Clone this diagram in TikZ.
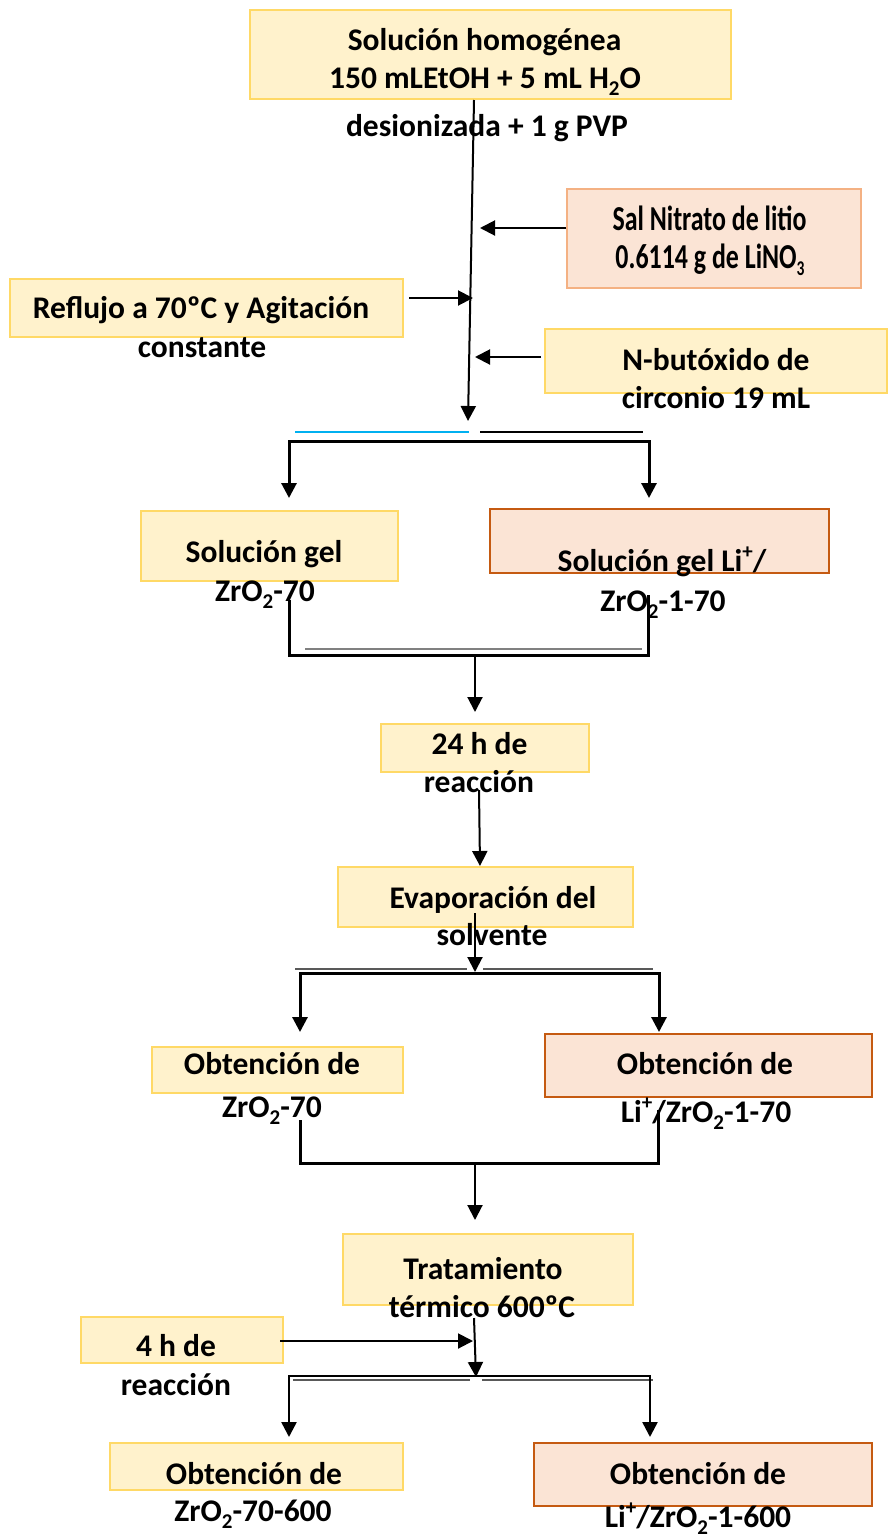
\documentclass[tikz,border=0pt]{standalone}
\usepackage{fontspec}
\setmainfont{Carlito}
\newfontfamily\condfont{Carlito}[FakeStretch=0.74]
\usetikzlibrary{arrows.meta,fit}
\definecolor{yfill}{HTML}{FFF2CC}
\definecolor{ybord}{HTML}{FFD966}
\definecolor{sfill}{HTML}{FBE4D5}
\definecolor{sbord}{HTML}{F4B183}
\definecolor{obord}{HTML}{C55A11}
\definecolor{cyanl}{HTML}{00B0F0}
\newcommand{\mysub}[1]{\raisebox{-7pt}{\fontsize{21}{21}\selectfont #1}}
\newcommand{\mysup}[1]{\raisebox{13pt}{\fontsize{21}{21}\selectfont #1}}
\begin{document}
\begin{tikzpicture}[x=1pt,y=-1pt,
 box/.style={line width=2pt, inner sep=0pt, outer sep=0pt, rectangle},
 ybox/.style={box, draw=ybord, fill=yfill},
 sbox/.style={box, draw=sbord, fill=sfill},
 obox/.style={box, draw=obord, fill=sfill},
 tx/.style={font=\bfseries\fontsize{31.5}{38}\selectfont, inner sep=0pt, anchor=base},
 cx/.style={font=\condfont\bfseries\fontsize{35}{40}\selectfont, inner sep=0pt, anchor=base},
 tip/.tip={Triangle[length=15pt,width=15pt]},
 arr/.style={line width=2pt, -tip},
 brk/.style={line width=3pt, line join=miter},
 thinln/.style={line width=1.2pt}
]
\useasboundingbox (0,0) rectangle (887,1540);
% boxes
\node[ybox, fit={(250,10) (731,99)}] (top) {};
\node[sbox, fit={(567,189) (861,288)}] (sal) {};
\node[ybox, fit={(10,279) (403,337)}] (refl) {};
\node[ybox, fit={(545,329) (887,393)}] (nbut) {};
\node[ybox, fit={(141,511) (398,581)}] (gel1) {};
\node[obox, fit={(490,509) (829,573)}] (gel2) {};
\node[ybox, fit={(381,724) (589,772)}] (h24) {};
\node[ybox, fit={(338,867) (633,927)}] (evap) {};
\node[ybox, fit={(152,1047) (403,1093)}] (ob1) {};
\node[obox, fit={(545,1034) (872,1097)}] (ob2) {};
\node[ybox, fit={(343,1234) (633,1305)}] (trat) {};
\node[ybox, fit={(81,1317) (283,1363)}] (h4) {};
\node[ybox, fit={(110,1443) (403,1490)}] (ob3) {};
\node[obox, fit={(534,1443) (872,1506)}] (ob4) {};
% texts
\node[tx] (t1a) at (484.5,50) {Solución homogénea};
\node[tx] (t1b) at (485,88) {150 mLEtOH + 5 mL H\mysub{2}O};
\node[tx] (t1c) at (487,136) {desionizada + 1 g PVP};
\node[cx] (s1) at (709.5,230) {Sal Nitrato de litio};
\node[cx] (s2) at (710,268) {0.6114 g de LiNO\mysub{3}};
\node[tx] (r1) at (201,318) {Reflujo a 70ºC y Agitación};
\node[tx] (r2) at (202,357) {constante};
\node[tx] (n1) at (716,370) {N-butóxido de};
\node[tx] (n2) at (716,408) {circonio 19 mL};
\node[tx] (g1a) at (264,562) {Solución gel};
\node[tx] (g1b) at (265,601) {ZrO\mysub{2}-70};
\node[tx] (g2a) at (662,571) {Solución gel Li\mysup{+}/};
\node[tx] (g2b) at (663,611) {ZrO\mysub{2}-1-70};
\node[tx] (h24a) at (479.5,754) {24 h de};
\node[tx] (h24b) at (479,792) {reacción};
\node[tx] (e1) at (493,908) {Evaporación del};
\node[tx] (e2) at (492,945) {solvente};
\node[tx] (o1a) at (272,1074) {Obtención de};
\node[tx] (o1b) at (272,1117) {ZrO\mysub{2}-70};
\node[tx] (o2a) at (705,1074) {Obtención de};
\node[tx] (o2b) at (706,1122) {Li\mysup{+}/ZrO\mysub{2}-1-70};
\node[tx] (tr1) at (483,1279) {Tratamiento};
\node[tx] (tr2) at (482,1317) {térmico 600ºC};
\node[tx] (h4a) at (176,1356) {4 h de};
\node[tx] (h4b) at (176,1395) {reacción};
\node[tx] (o3a) at (254,1484) {Obtención de};
\node[tx] (o3b) at (253,1521) {ZrO\mysub{2}-70-600};
\node[tx] (o4a) at (698,1484) {Obtención de};
\node[tx] (o4b) at (698,1527) {Li\mysup{+}/ZrO\mysub{2}-1-600};
% coordinates
\coordinate (a0) at (474,100);
\coordinate (a1) at (468,421);
\coordinate (sa0) at (566,228);
\coordinate (sa1) at (480,228);
\coordinate (ra0) at (409,298);
\coordinate (ra1) at (473,298);
\coordinate (na0) at (541,357);
\coordinate (na1) at (475,357);
% connectors
\draw[arr] (a0) -- (a1);
\draw[arr] (sa0) -- (sa1);
\draw[arr] (ra0) -- (ra1);
\draw[arr] (na0) -- (na1);
% split 1
\draw[thinln, cyanl] (295,432) -- (469,432);
\draw[thinln] (480,432) -- (643,432);
\draw[brk, tip-tip] (289,498) -- (289,441) -- (649,441) -- (649,498);
% merge 1
\draw[thinln, gray] (305,649) -- (642,649);
\draw[brk] (289,600) -- (289,655) -- (648,655) -- (648,595);
\coordinate (m1) at (475,655);
\coordinate (m1b) at (475,712);
\draw[arr] (m1) -- (m1b);
\coordinate (hb0) at (479,790);
\coordinate (hb1) at (480,866);
\draw[arr] (hb0) -- (hb1);
% split 2
\coordinate (ev0) at (475,913);
\coordinate (ev1) at (475,972);
\draw[thinln, gray!70!black] (295,969) -- (467,969);
\draw[thinln, gray!70!black] (483,969) -- (653,969);
\draw[brk, tip-tip] (300,1032) -- (300,973) -- (659,973) -- (659,1032);
\draw[arr] (ev0) -- (ev1);
% merge 2
\draw[brk] (300,1120) -- (300,1163) -- (658,1163) -- (658,1110);
\coordinate (m2) at (475,1163);
\coordinate (m2b) at (475,1220);
\draw[arr] (m2) -- (m2b);
% bottom
\coordinate (tr0) at (474,1318);
\coordinate (trb) at (476,1377);
\coordinate (h40) at (280,1341);
\coordinate (h41) at (473,1341);
\draw[thinln, gray!70!black] (293,1380) -- (470,1380);
\draw[thinln, gray!70!black] (482,1380) -- (653,1380);
\draw[line width=2.5pt, line join=miter, tip-tip] (289,1437) -- (289,1376) -- (650,1376) -- (650,1437);
\draw[arr] (tr0) -- (trb);
\draw[arr] (h40) -- (h41);
\end{tikzpicture}
\end{document}
